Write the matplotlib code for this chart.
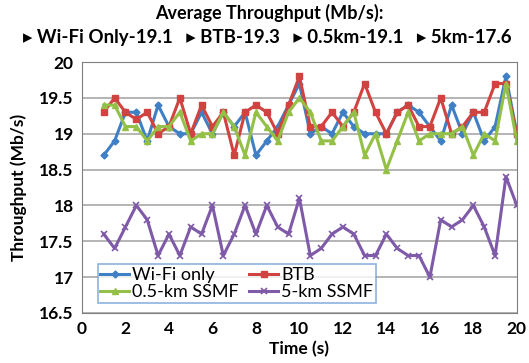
import matplotlib.pyplot as plt
import numpy as np

# time axis, one sample every 0.5 s
time_s = np.arange(1, 20.5, 0.5)

wifi_only = [18.7, 18.9, 19.3, 19.3, 18.9, 19.4, 19.1, 19.0, 19.0, 19.3,
             19.0, 19.3, 19.1, 19.3, 18.7, 18.9, 19.1, 19.4, 19.7, 19.0,
             19.1, 19.0, 19.3, 19.1, 19.0, 19.0, 19.0, 19.3, 19.4, 19.3,
             19.1, 18.9, 19.4, 19.0, 19.3, 18.9, 19.1, 19.8, 19.0]
btb = [19.3, 19.5, 19.3, 19.2, 19.3, 19.0, 19.1, 19.5, 19.0, 19.4,
       19.1, 19.3, 18.7, 19.3, 19.4, 19.3, 19.0, 19.4, 19.8, 19.1,
       19.1, 19.3, 19.1, 19.3, 19.7, 19.3, 19.0, 19.3, 19.4, 19.1,
       19.1, 19.5, 19.0, 19.1, 19.3, 19.3, 19.7, 19.7, 19.0]
ssmf_05km = [19.4, 19.4, 19.1, 19.1, 18.9, 19.1, 19.1, 19.3, 18.9, 19.0,
             19.0, 19.3, 19.1, 18.7, 19.3, 19.1, 18.9, 19.3, 19.5, 19.3,
             18.9, 18.9, 19.1, 19.3, 18.7, 19.0, 18.5, 18.9, 19.3, 18.9,
             19.0, 19.0, 19.0, 19.1, 18.7, 19.0, 18.9, 19.7, 18.9]
ssmf_5km = [17.6, 17.4, 17.7, 18.0, 17.8, 17.3, 17.6, 17.3, 17.7, 17.6,
            18.0, 17.3, 17.6, 18.0, 17.6, 18.0, 17.7, 17.6, 18.1, 17.3,
            17.4, 17.6, 17.7, 17.6, 17.3, 17.3, 17.6, 17.4, 17.3, 17.3,
            17.0, 17.8, 17.7, 17.8, 18.0, 17.7, 17.3, 18.4, 18.0]

series_labels = ["Wi-Fi only", "BTB", "0.5-km SSMF", "5-km SSMF"]
averages = ["Wi-Fi Only-19.1", "BTB-19.3", "0.5km-19.1", "5km-17.6"]

fonts = ["Lato", "DejaVu Sans"]
plt.rcParams['font.family'] = fonts

fig = plt.figure(figsize=(5.29, 3.63), dpi=100)
ax = fig.add_axes([0.155, 0.138, 0.822, 0.691])

styles = [
    dict(color="#3f7fc6", marker="D", markersize=3.5),
    dict(color="#d04340", marker="s", markersize=5),
    dict(color="#94c047", marker="^", markersize=5),
    dict(color="#7e5aa8", marker="x", markersize=4, markeredgewidth=1.2),
]
lines = []
for ys, lab, st in zip([wifi_only, btb, ssmf_05km, ssmf_5km], series_labels, styles):
    ln, = ax.plot(time_s, ys, label=lab, linewidth=2.2, **st)
    lines.append(ln)

ax.set_xlim(0, 20)
ax.set_ylim(16.5, 20)
ax.set_xticks(np.arange(0, 21, 2))
ax.set_yticks(np.arange(16.5, 20.01, 0.5))
ax.set_yticklabels(["16.5", "17", "17.5", "18", "18.5", "19", "19.5", "20"])
ax.tick_params(length=0, labelsize=12.5, pad=6)
for t in ax.get_xticklabels() + ax.get_yticklabels():
    t.set_fontweight("bold")
ax.grid(axis="y", color="#a8a8a8", linewidth=1.2)
ax.set_axisbelow(True)
for s in ax.spines.values():
    s.set_color("#7f7f7f")

ax.set_xlabel("Time (s)", fontsize=12.5, fontweight="bold", labelpad=3)
ax.set_ylabel("Throughput (Mb/s)", fontsize=12.5, fontweight="bold", labelpad=9)

# row-wise legend order: Wi-Fi, BTB / 0.5-km, 5-km
order = [0, 2, 1, 3]
leg = ax.legend([lines[i] for i in order], [series_labels[i] for i in order],
                loc="lower left", ncol=2, fontsize=13, frameon=True, fancybox=False,
                borderpad=0.15, handlelength=1.6, handletextpad=0.15,
                columnspacing=0.6, labelspacing=0.05, bbox_to_anchor=(0.015, 0.005))
leg.get_frame().set_edgecolor("#6fa0d8")
leg.get_frame().set_linewidth(1.2)

fig.text(0.51, 0.965, "Average Throughput (Mb/s):", ha="center", va="center",
         fontsize=13, fontweight="bold")
sub = "   ".join("\u25b8 " + a for a in averages)
fig.text(0.505, 0.897, sub, ha="center", va="center", fontsize=13.5, fontweight="bold")

fig.savefig("out.png", dpi=100)
